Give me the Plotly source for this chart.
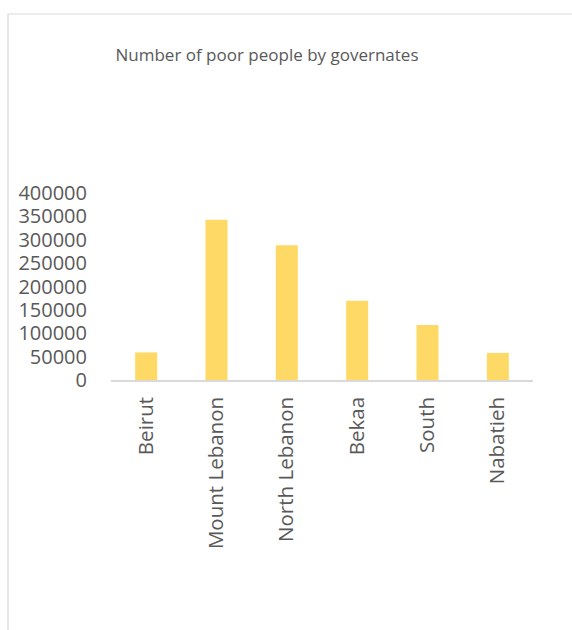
import plotly.graph_objects as go

# Poor population per governorate
governorates = ["Beirut", "Mount Lebanon", "North Lebanon", "Bekaa", "South", "Nabatieh"]
poor_people = [59000, 343000, 288000, 169500, 117500, 58000]

# Value axis ticks
y_ticks = [0, 50000, 100000, 150000, 200000, 250000, 300000, 350000, 400000]

W, H = 572, 630
L, R, T, B = 111, 39, 193, 250
pw, ph = W - L - R, H - T - B


def px_to_paper(x, y):
    return (x - L) / pw, (H - B - y) / ph


fig = go.Figure(
    go.Bar(
        x=governorates,
        y=poor_people,
        marker=dict(color="#FFD966", line=dict(width=0)),
        hoverinfo="x+y",
    )
)

# Light chart-area frame
x0, y0 = px_to_paper(8, 14)
x1, y1 = px_to_paper(600, 660)
fig.add_shape(
    type="rect", xref="paper", yref="paper",
    x0=x0, y0=y1, x1=x1, y1=y0,
    line=dict(color="#D9D9D9", width=1.2),
    fillcolor="rgba(0,0,0,0)", layer="below",
)

fig.update_layout(
    width=W, height=H,
    margin=dict(l=L, r=R, t=T, b=B, pad=0),
    paper_bgcolor="white", plot_bgcolor="white",
    font=dict(family="Open Sans", color="#595959"),
    bargap=0.687,
    showlegend=False,
    title=dict(
        text="Number of poor people by governates",
        x=267 / W, xref="container", xanchor="center",
        y=1 - 55 / H, yref="container", yanchor="middle",
        font=dict(size=17, color="#595959", family="Open Sans"),
    ),
    xaxis=dict(
        showline=True, linecolor="#D9D9D9", linewidth=1.5,
        showgrid=False, zeroline=False, ticks="",
        tickangle=-90, tickfont=dict(size=20.5, color="#595959"),
        ticklabelstandoff=7,
    ),
    yaxis=dict(
        range=[0, 400000], tickvals=y_ticks,
        ticktext=[str(v) for v in y_ticks],
        showgrid=False, zeroline=False, showline=False, ticks="",
        tickfont=dict(size=20, color="#595959"),
        ticklabelstandoff=23,
    ),
)

fig.write_html("out.html")
